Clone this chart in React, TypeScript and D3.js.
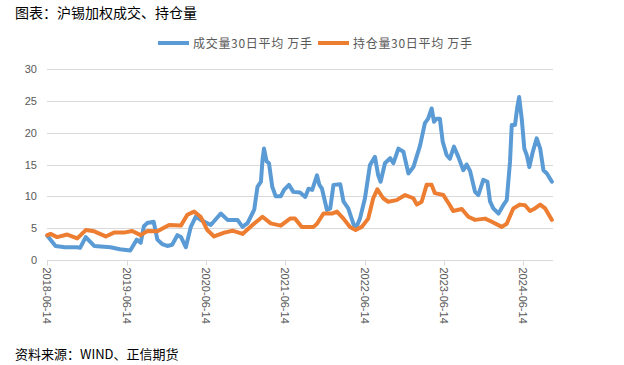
import React, { useEffect, useRef } from 'react';
import * as d3 from 'd3';

const width = 624;
const height = 365;

// 成交量30日平均 (万手)
const volDates = [
	'2018-06-14', '2018-07-22', '2018-09-03', '2018-10-29', '2018-11-12', '2018-12-08', '2019-01-16',
	'2019-04-01', '2019-05-14', '2019-07-01', '2019-07-31', '2019-08-18', '2019-09-02', '2019-09-17',
	'2019-10-17', '2019-11-03', '2019-11-25', '2019-12-19', '2020-01-10', '2020-02-03', '2020-02-20',
	'2020-03-13', '2020-04-05', '2020-04-28', '2020-05-20', '2020-07-06', '2020-08-21', '2020-09-21',
	'2020-11-06', '2020-11-29', '2020-12-22', '2021-01-22', '2021-02-06', '2021-02-22', '2021-03-01',
	'2021-03-08', '2021-03-20', '2021-03-31', '2021-04-15', '2021-05-01', '2021-05-24', '2021-06-08',
	'2021-07-01', '2021-07-21', '2021-08-21', '2021-09-14', '2021-09-29', '2021-10-16', '2021-11-07',
	'2021-11-18', '2021-11-30', '2021-12-23', '2022-01-07', '2022-01-22', '2022-02-22', '2022-03-09',
	'2022-03-31', '2022-04-23', '2022-05-04', '2022-05-24', '2022-06-16', '2022-07-09', '2022-08-01',
	'2022-08-16', '2022-08-27', '2022-09-16', '2022-10-10', '2022-10-25', '2022-11-17', '2022-12-10',
	'2023-01-02', '2023-01-25', '2023-02-25', '2023-03-19', '2023-04-03', '2023-04-19', '2023-04-30',
	'2023-05-12', '2023-05-27', '2023-06-09', '2023-06-27', '2023-07-12', '2023-07-31', '2023-08-20',
	'2023-09-12', '2023-09-27', '2023-10-13', '2023-11-05', '2023-11-20', '2023-12-13', '2024-01-01',
	'2024-01-13', '2024-01-28', '2024-02-21', '2024-03-14', '2024-03-30', '2024-04-14', '2024-04-22',
	'2024-05-07', '2024-05-18', '2024-05-26', '2024-06-07', '2024-06-19', '2024-06-30', '2024-07-12',
	'2024-07-28', '2024-08-15', '2024-08-31', '2024-09-15', '2024-10-01', '2024-10-24'
];
const volValues = [
	3.8, 2.2, 2.0, 2.0, 1.9, 3.6, 2.2,
	2.0, 1.7, 1.5, 3.2, 2.7, 5.3, 5.8,
	6.0, 3.2, 2.5, 2.2, 2.4, 3.9, 3.6,
	2.0, 5.2, 6.8, 6.3, 5.5, 7.3, 6.3,
	6.3, 5.2, 5.8, 7.9, 11.5, 12.3, 15.7,
	17.5, 15.5, 15.2, 11.5, 10.0, 10.0, 11.0,
	11.8, 10.7, 10.6, 9.9, 11.2, 11.0, 13.3,
	11.8, 11.2, 7.85, 8.1, 11.8, 11.9, 9.2,
	8.1, 5.75, 4.9, 6.5, 9.7, 14.9, 16.2,
	13.3, 12.3, 15.2, 16.0, 15.2, 17.5, 17.0,
	13.6, 14.6, 18.0, 21.5, 22.2, 23.8, 21.7,
	22.2, 22.2, 18.6, 16.5, 15.9, 17.8, 16.2,
	14.1, 15.0, 14.0, 10.7, 10.2, 12.6, 12.3,
	9.2, 8.1, 7.3, 8.6, 9.4, 15.4, 21.2,
	21.2, 24.1, 25.6, 22.2, 17.5, 16.5, 14.6,
	17.0, 19.1, 17.5, 14.1, 13.6, 12.3
];

// 持仓量30日平均 (万手)
const oiDates = [
	'2018-06-14', '2018-06-29', '2018-07-29', '2018-09-14', '2018-10-30', '2018-12-08', '2019-01-16',
	'2019-03-10', '2019-04-17', '2019-06-02', '2019-07-10', '2019-08-18', '2019-09-18', '2019-11-03',
	'2019-12-27', '2020-02-19', '2020-03-20', '2020-04-20', '2020-05-20', '2020-06-20', '2020-07-21',
	'2020-09-06', '2020-10-14', '2020-11-29', '2021-01-14', '2021-03-01', '2021-04-08', '2021-05-24',
	'2021-07-06', '2021-07-29', '2021-08-29', '2021-10-22', '2021-11-07', '2021-12-07', '2022-01-15',
	'2022-02-07', '2022-03-09', '2022-04-08', '2022-05-04', '2022-06-01', '2022-07-01', '2022-07-24',
	'2022-08-12', '2022-09-08', '2022-10-01', '2022-11-09', '2022-12-18', '2023-01-25', '2023-02-10',
	'2023-03-04', '2023-03-27', '2023-04-19', '2023-05-04', '2023-06-12', '2023-07-12', '2023-07-27',
	'2023-09-05', '2023-10-05', '2023-11-05', '2023-12-21', '2024-01-21', '2024-03-07', '2024-03-30',
	'2024-04-29', '2024-05-30', '2024-06-22', '2024-07-15', '2024-08-07', '2024-08-31', '2024-09-23',
	'2024-10-24'
];
const oiValues = [
	3.9, 4.1, 3.6, 4.0, 3.4, 4.7, 4.5,
	3.7, 4.3, 4.3, 4.55, 3.9, 4.55, 4.5,
	5.5, 5.4, 7.1, 7.6, 6.8, 4.7, 3.7,
	4.3, 4.6, 4.1, 5.5, 6.8, 5.75, 5.4,
	6.5, 6.5, 5.2, 5.2, 5.7, 7.3, 7.3,
	7.6, 6.5, 5.2, 4.7, 5.2, 6.5, 9.7,
	11.1, 9.7, 9.15, 9.4, 10.2, 9.7, 8.7,
	9.15, 11.8, 11.8, 10.5, 10.2, 8.6, 7.7,
	8.0, 6.8, 6.3, 6.5, 6.0, 5.2, 5.7,
	8.1, 8.7, 8.6, 7.7, 8.1, 8.7, 8.1,
	6.3
];

const yTicks = [0, 5, 10, 15, 20, 25, 30];
const xTickLabels = ['2018-06-14', '2019-06-14', '2020-06-14', '2021-06-14', '2022-06-14', '2023-06-14', '2024-06-14'];
const seriesNames = ['成交量30日平均 万手', '持仓量30日平均 万手'];

const colors = ['#5B9BD5', '#ED7D31'];
const parse = d3.timeParse('%Y-%m-%d');
const cjk = '"Noto Sans CJK SC", "Microsoft YaHei", sans-serif';

const App = () => {
	const ref = useRef(null);

	useEffect(() => {
		const svg = d3.select(ref.current);
		svg.selectAll('*').remove();

		const x = d3
			.scaleTime()
			.domain([parse('2018-06-14'), parse('2024-10-29')])
			.range([47.3, 553]);
		const y = d3.scaleLinear().domain([0, 30]).range([260, 69]);

		// grid
		svg.append('g')
			.selectAll('line')
			.data(yTicks.filter((d) => d > 0))
			.join('line')
			.attr('x1', 47)
			.attr('x2', 553)
			.attr('y1', (d) => Math.round(y(d)) + 0.5)
			.attr('y2', (d) => Math.round(y(d)) + 0.5)
			.attr('stroke', '#d9d9d9')
			.attr('stroke-width', 1);

		// y labels
		svg.append('g')
			.selectAll('text')
			.data(yTicks)
			.join('text')
			.attr('x', 37)
			.attr('y', (d) => y(d) + 4)
			.attr('text-anchor', 'end')
			.attr('font-family', '"Liberation Sans", Arial, sans-serif')
			.attr('font-size', 11)
			.attr('fill', '#595959')
			.text((d) => d);

		// x axis
		const base = Math.round(y(0)) + 0.5;
		svg.append('line')
			.attr('x1', 47)
			.attr('x2', 553)
			.attr('y1', base)
			.attr('y2', base)
			.attr('stroke', '#d9d9d9');

		const tickDates = xTickLabels.map(parse);
		const xt = svg.append('g').selectAll('g').data(tickDates).join('g');
		xt.append('line')
			.attr('x1', (d) => Math.round(x(d)) + 0.5)
			.attr('x2', (d) => Math.round(x(d)) + 0.5)
			.attr('y1', base)
			.attr('y2', base + 5)
			.attr('stroke', '#d9d9d9');
		xt.append('text')
			.attr('transform', (d) => `translate(${x(d) - 4},${base + 7}) rotate(90)`)
			.attr('font-family', '"Liberation Sans", Arial, sans-serif')
			.attr('font-size', 11)
			.attr('fill', '#595959')
			.text((d) => d3.timeFormat('%Y-%m-%d')(d));

		// lines
		const line = d3
			.line()
			.x((d) => x(d[0]))
			.y((d) => y(d[1]));
		const series = [
			volDates.map((d, i) => [parse(d), volValues[i]]),
			oiDates.map((d, i) => [parse(d), oiValues[i]])
		];
		series.forEach((s, i) => {
			svg.append('path')
				.datum(s)
				.attr('fill', 'none')
				.attr('stroke', colors[i])
				.attr('stroke-width', 4)
				.attr('stroke-linejoin', 'round')
				.attr('stroke-linecap', 'round')
				.attr('d', line);
		});

		// legend
		const legendX = [158, 318];
		const lg = svg.append('g').selectAll('g').data(seriesNames).join('g');
		lg.append('line')
			.attr('x1', (d, i) => legendX[i])
			.attr('x2', (d, i) => legendX[i] + 31)
			.attr('y1', 43)
			.attr('y2', 43)
			.attr('stroke', (d, i) => colors[i])
			.attr('stroke-width', 4);
		lg.append('text')
			.attr('x', (d, i) => legendX[i] + 35)
			.attr('y', 47.5)
			.attr('font-family', cjk)
			.attr('font-size', 12)
			.attr('letter-spacing', 0.7)
			.attr('fill', '#595959')
			.text((d) => d);

		// title and source
		svg.append('text')
			.attr('x', 15)
			.attr('y', 18)
			.attr('font-family', cjk)
			.attr('font-size', 14)
			.attr('fill', '#000')
			.text('图表：沪锡加权成交、持仓量');
		svg.append('text')
			.attr('x', 15)
			.attr('y', 359)
			.attr('font-family', cjk)
			.attr('font-size', 13)
			.attr('fill', '#000')
			.text('资料来源：WIND、正信期货');
	}, []);

	return (
		<svg
			ref={ref}
			width={width}
			height={height}
			style={{ position: 'absolute', left: 0, top: 0, background: '#fff' }}
		/>
	);
};

export default App;
